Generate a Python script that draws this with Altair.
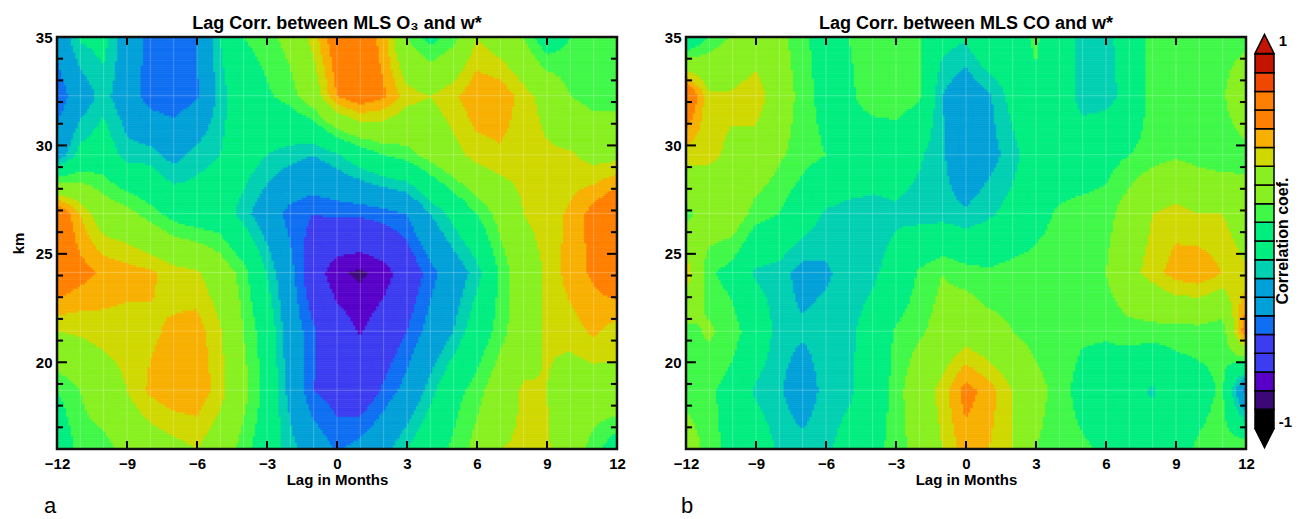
import numpy as np
import pandas as pd
import altair as alt

# ---------------- data ----------------
LAGS = [-12, -11, -10, -9, -8, -7, -6, -5, -4, -3, -2, -1, 0, 1, 2, 3, 4, 5, 6, 7, 8, 9, 10, 11, 12]
ALTITUDES_KM = [16.0, 18.71, 21.43, 24.14, 26.86, 29.57, 32.29, 35.0]

# correlation, rows listed from the top level (35 km) down to 16 km, columns lag -12..12
O3_CORR = [
    [-0.35, -0.08, -0.05, -0.28, -0.45, -0.45, -0.40, -0.10, 0.10, 0.15, 0.25, 0.45, 0.70, 0.72, 0.55, 0.20, 0.05, 0.15, 0.40, 0.30, 0.20, 0.00, 0.10, 0.15, 0.18],
    [-0.50, -0.30, -0.15, -0.30, -0.47, -0.49, -0.42, -0.15, 0.00, 0.08, 0.15, 0.30, 0.60, 0.70, 0.62, 0.45, 0.40, 0.48, 0.58, 0.58, 0.45, 0.35, 0.20, 0.15, 0.15],
    [-0.30, -0.05, 0.00, -0.15, -0.15, -0.25, -0.15, -0.10, -0.02, -0.10, -0.15, -0.20, -0.12, 0.00, 0.10, 0.15, 0.25, 0.35, 0.45, 0.48, 0.45, 0.42, 0.42, 0.35, 0.35],
    [0.75, 0.50, 0.30, 0.25, 0.15, 0.05, 0.00, 0.00, -0.15, -0.30, -0.45, -0.50, -0.48, -0.48, -0.45, -0.40, -0.20, -0.05, 0.10, 0.25, 0.40, 0.45, 0.52, 0.65, 0.80],
    [0.75, 0.65, 0.58, 0.55, 0.52, 0.45, 0.42, 0.30, 0.15, -0.10, -0.35, -0.62, -0.78, -0.82, -0.76, -0.62, -0.45, -0.30, -0.15, 0.12, 0.30, 0.42, 0.55, 0.62, 0.72],
    [0.40, 0.42, 0.45, 0.45, 0.48, 0.52, 0.55, 0.42, 0.20, 0.02, -0.30, -0.48, -0.62, -0.71, -0.62, -0.50, -0.35, -0.20, 0.00, 0.15, 0.30, 0.42, 0.45, 0.52, 0.45],
    [0.10, 0.20, 0.30, 0.40, 0.52, 0.58, 0.58, 0.45, 0.25, 0.05, -0.25, -0.50, -0.56, -0.62, -0.48, -0.35, -0.15, 0.05, 0.15, 0.30, 0.42, 0.40, 0.30, 0.30, 0.35],
    [-0.05, 0.15, 0.15, 0.25, 0.30, 0.35, 0.40, 0.30, 0.15, 0.00, -0.15, -0.30, -0.42, -0.35, -0.25, -0.10, 0.05, 0.12, 0.25, 0.40, 0.42, 0.42, 0.30, 0.15, 0.00],
]
CO_CORR = [
    [-0.10, 0.12, 0.22, 0.30, 0.25, 0.12, 0.05, 0.10, 0.15, 0.18, 0.12, -0.05, -0.08, 0.10, 0.05, 0.12, 0.00, -0.15, -0.15, 0.00, 0.15, 0.15, 0.15, 0.15, 0.15],
    [0.80, 0.42, 0.42, 0.48, 0.30, 0.15, 0.05, 0.08, 0.15, 0.18, 0.12, -0.20, -0.32, -0.22, -0.05, 0.08, 0.00, -0.15, -0.15, -0.05, 0.15, 0.15, 0.15, 0.18, 0.35],
    [0.45, 0.42, 0.38, 0.32, 0.22, 0.15, 0.10, 0.05, 0.00, -0.02, -0.08, -0.18, -0.35, -0.25, -0.15, 0.00, 0.00, 0.00, 0.05, 0.10, 0.15, 0.18, 0.15, 0.12, 0.15],
    [0.15, 0.30, 0.30, 0.15, 0.10, 0.00, -0.12, -0.15, -0.15, -0.12, -0.15, -0.15, -0.18, -0.12, -0.05, 0.05, 0.12, 0.15, 0.15, 0.28, 0.40, 0.45, 0.40, 0.40, 0.30],
    [0.50, 0.12, 0.05, -0.12, -0.15, -0.25, -0.22, -0.15, -0.12, -0.05, 0.12, 0.20, 0.15, 0.12, 0.15, 0.15, 0.15, 0.15, 0.20, 0.35, 0.45, 0.55, 0.58, 0.50, 0.42],
    [0.15, 0.22, 0.15, 0.02, -0.15, -0.18, -0.15, -0.12, -0.05, 0.12, 0.18, 0.25, 0.32, 0.25, 0.20, 0.15, 0.15, 0.12, 0.12, 0.15, 0.15, 0.15, 0.15, 0.12, 0.70],
    [0.15, 0.12, 0.05, -0.12, -0.18, -0.30, -0.15, -0.12, -0.02, 0.15, 0.30, 0.45, 0.65, 0.55, 0.40, 0.25, 0.15, 0.05, 0.00, -0.05, -0.12, 0.00, 0.05, 0.12, -0.45],
    [0.30, 0.15, 0.05, 0.00, -0.12, -0.15, -0.12, -0.05, 0.05, 0.15, 0.25, 0.40, 0.55, 0.50, 0.40, 0.20, 0.15, 0.12, 0.08, 0.00, 0.02, 0.05, 0.12, 0.15, 0.22],
]

LEVELS = [-1.0, -0.9, -0.8, -0.7, -0.6, -0.5, -0.4, -0.3, -0.2, -0.1, 0.0,
          0.1, 0.2, 0.3, 0.4, 0.5, 0.6, 0.7, 0.8, 0.9, 1.0]
BAND_COLORS = ["#000000", "#3c0878", "#5800c8", "#3c3cf0", "#3c3cf0", "#0f6ff2",
               "#00a0d8", "#00a0d8", "#00d0b2", "#00ee80", "#00ee80", "#40f848",
               "#88f020", "#88f020", "#d0d800", "#f8b000", "#ff8000", "#ff8000",
               "#f04800", "#c41400"]

X_TICKS = [-12, -9, -6, -3, 0, 3, 6, 9, 12]
Y_TICKS = [20, 25, 30, 35]
Y_MINOR = [17, 18, 19, 21, 22, 23, 24, 26, 27, 28, 29, 31, 32, 33, 34]
TITLES = ["Lag Corr. between MLS O\u2083 and w*", "Lag Corr. between MLS CO and w*"]
LETTERS = ["a", "b"]
CBAR_LABELS = ["1", "-1"]
CBAR_TITLE = "Correlation coef."

FONT = "Liberation Sans, Arial, DejaVu Sans"
PW, PH = 560, 412


def contour_cells(rows_top_down, nx=240, ny=190):
    g = np.array(rows_top_down[::-1], dtype=float)
    lags = np.array(LAGS, dtype=float)
    alts = np.array(ALTITUDES_KM, dtype=float)
    xe = np.linspace(lags[0], lags[-1], nx + 1)
    ye = np.linspace(alts[0], alts[-1], ny + 1)
    xc = 0.5 * (xe[1:] + xe[:-1])
    yc = 0.5 * (ye[1:] + ye[:-1])
    rowi = np.array([np.interp(xc, lags, r) for r in g])
    field = np.array([np.interp(yc, alts, rowi[:, j]) for j in range(nx)]).T
    lev = np.array(LEVELS)
    band = np.clip(np.searchsorted(lev, field, side="right") - 1, 0, len(lev) - 2)
    recs = []
    for i in range(ny):
        b = band[i]
        start = 0
        for j in range(1, nx + 1):
            if j == nx or b[j] != b[start]:
                k = b[start]
                recs.append({"x0": xe[start], "x1": xe[j], "y0": ye[i], "y1": ye[i + 1],
                             "c": round((lev[k] + lev[k + 1]) / 2, 3)})
                start = j
    return pd.DataFrame(recs)


cscale = alt.Scale(type="threshold", domain=LEVELS[1:-1], range=BAND_COLORS)


def panel(rows, title, letter, ytitle):
    xs = alt.Scale(domain=[-12, 12], nice=False, zero=False)
    ys = alt.Scale(domain=[16, 35], nice=False, zero=False)
    xaxis = alt.Axis(values=X_TICKS, title="Lag in Months", ticks=False, domain=False, grid=False,
                     labelPadding=7, titlePadding=1, labelFlush=False)
    yaxis = alt.Axis(values=Y_TICKS, title=ytitle, ticks=False, domain=False, grid=False,
                     labelPadding=5, titlePadding=9, labelFlush=False)

    def X(f):
        return alt.X(f, scale=xs, axis=xaxis)

    def Y(f):
        return alt.Y(f, scale=ys, axis=yaxis)

    cells = contour_cells(rows)
    fill = alt.Chart(cells).mark_rect(strokeWidth=0.7).encode(
        x=X("x0:Q"), x2="x1:Q", y=Y("y0:Q"), y2="y1:Q",
        fill=alt.Fill("c:Q", scale=cscale, legend=None),
        stroke=alt.Stroke("c:Q", scale=cscale, legend=None),
    )
    mesh_v = alt.Chart(pd.DataFrame({"lag": LAGS[1:-1]})).mark_rule(
        color="white", opacity=0.3, strokeWidth=0.8).encode(x=X("lag:Q"))
    mesh_h = alt.Chart(pd.DataFrame({"km": ALTITUDES_KM[1:-1]})).mark_rule(
        color="white", opacity=0.3, strokeWidth=0.8).encode(y=Y("km:Q"))

    xt = [v for v in X_TICKS[1:-1]]
    tick_len_x = 0.37
    bt = pd.DataFrame({"lag": xt + xt,
                       "a": [16.0] * len(xt) + [35.0] * len(xt),
                       "b": [16.0 + tick_len_x] * len(xt) + [35.0 - tick_len_x] * len(xt)})
    xticks = alt.Chart(bt).mark_rule(color="black", strokeWidth=2).encode(
        x=X("lag:Q"), y=Y("a:Q"), y2="b:Q")
    major, minor = 0.43, 0.26
    yt_rows = []
    for v in Y_TICKS[:-1]:
        yt_rows += [{"km": v, "a": -12.0, "b": -12.0 + major}, {"km": v, "a": 12.0, "b": 12.0 - major}]
    for v in Y_MINOR:
        yt_rows += [{"km": v, "a": -12.0, "b": -12.0 + minor}, {"km": v, "a": 12.0, "b": 12.0 - minor}]
    yticks = alt.Chart(pd.DataFrame(yt_rows)).mark_rule(color="black", strokeWidth=2).encode(
        y=Y("km:Q"), x=X("a:Q"), x2="b:Q")

    frame = alt.Chart(pd.DataFrame({"x0": [LAGS[0]], "x1": [LAGS[-1]],
                                    "y0": [ALTITUDES_KM[0]], "y1": [ALTITUDES_KM[-1]]})).mark_rect(
        fill="transparent", stroke="#111111", strokeWidth=2.5).encode(
        x=X("x0:Q"), x2="x1:Q", y=Y("y0:Q"), y2="y1:Q")

    lab = alt.Chart(pd.DataFrame({"t": [letter]})).mark_text(
        font=FONT, fontSize=22, align="center", baseline="alphabetic", color="black"
    ).encode(x=alt.value(-7 if letter == "a" else 1), y=alt.value(476), text="t:N")

    return alt.layer(fill, mesh_v, mesh_h, xticks, yticks, frame, lab).properties(
        width=PW, height=PH,
        title=alt.TitleParams(title, font=FONT, fontSize=18, fontWeight="bold", color="black",
                              offset=-3, anchor="middle"),
    )


pa = panel(O3_CORR, TITLES[0], LETTERS[0], "km")
pb = panel(CO_CORR, TITLES[1], LETTERS[1], "")

# ---------------- colour bar ----------------
cb_y = alt.Scale(domain=[-1.112, 1.091], nice=False, zero=False)
cb_x = alt.Scale(domain=[0, 1], nice=False, zero=False)
cb_df = pd.DataFrame({"lo": LEVELS[:-1], "hi": LEVELS[1:]})
cb_df["c"] = (cb_df["lo"] + cb_df["hi"]) / 2
cb_df["x0"] = 0.0
cb_df["x1"] = 1.0
bar = alt.Chart(cb_df).mark_rect(stroke="black", strokeWidth=1.5).encode(
    x=alt.X("x0:Q", scale=cb_x, axis=None), x2="x1:Q",
    y=alt.Y("lo:Q", scale=cb_y, axis=None), y2="hi:Q",
    fill=alt.Fill("c:Q", scale=cscale, legend=None),
)
tri = pd.DataFrame({"x": [0.5, 0.5], "y": [1.054, -1.054], "c": [0.95, -0.95], "d": ["up", "down"]})
tris = alt.Chart(tri).mark_point(filled=True, size=361, stroke="black", strokeWidth=1.5, opacity=1).encode(
    x=alt.X("x:Q", scale=cb_x, axis=None),
    y=alt.Y("y:Q", scale=cb_y, axis=None),
    fill=alt.Fill("c:Q", scale=cscale, legend=None),
    shape=alt.Shape("d:N", scale=alt.Scale(domain=["up", "down"],
                                           range=["M-1,1L0,-1L1,1Z", "M-1,-1L0,1L1,-1Z"]), legend=None),
)
lbl = alt.Chart(pd.DataFrame({"t": CBAR_LABELS, "x": [1.25, 1.25], "y": [1.07, -0.97]})).mark_text(
    font=FONT, fontSize=15, fontWeight="bold", align="left", baseline="middle", color="black"
).encode(x=alt.X("x:Q", scale=cb_x, axis=None), y=alt.Y("y:Q", scale=cb_y, axis=None), text="t:N")
ctitle = alt.Chart(pd.DataFrame({"t": [CBAR_TITLE], "x": [1.45], "y": [0.0]})).mark_text(
    font=FONT, fontSize=16, fontWeight="bold", align="center", baseline="middle", angle=270, color="black"
).encode(x=alt.X("x:Q", scale=cb_x, axis=None), y=alt.Y("y:Q", scale=cb_y, axis=None), text="t:N")
cbar = alt.layer(bar, tris, lbl, ctitle).properties(width=19, height=PH)

chart = alt.hconcat(pa, alt.hconcat(pb, cbar, spacing=-5), spacing=37).properties(
    padding={"left": 10, "top": 14, "right": 2, "bottom": 0}, background="white"
).configure_view(stroke="transparent").configure_axis(
    labelFont=FONT, labelFontSize=15, labelFontWeight="bold", labelColor="black",
    titleFont=FONT, titleFontSize=15, titleFontWeight="bold", titleColor="black",
)

chart.save("out.html", embed_options={"renderer": "svg", "actions": False})
